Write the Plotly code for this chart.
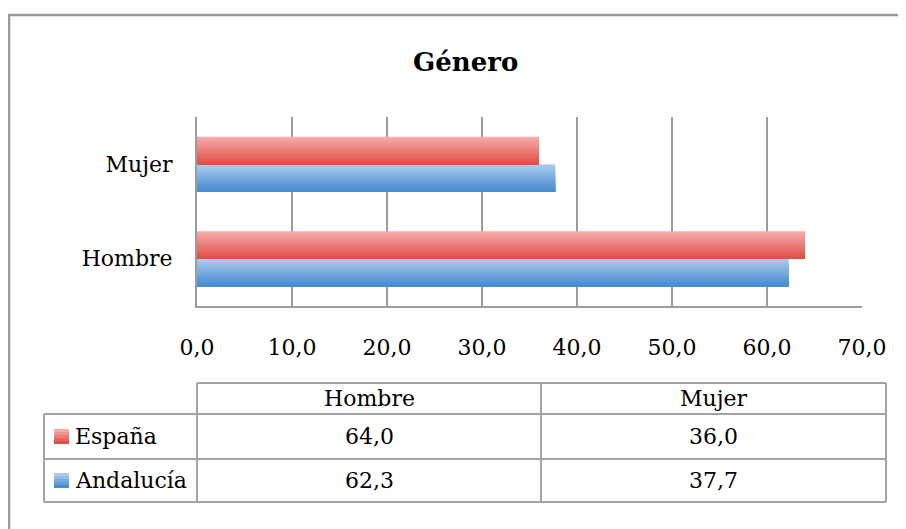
import plotly.graph_objects as go

# ---- data ----
categories = ["Hombre", "Mujer"]
series_names = ["España", "Andalucía"]
espana = [64.0, 36.0]
andalucia = [62.3, 37.7]
x_ticks = [0, 10, 20, 30, 40, 50, 60, 70]
title_text = "Género"

# ---- styling ----
OFF = 8                                   # page body margin
W, H = 906 - OFF, 529 - OFF
L, R, T, B = 197 - OFF, 862 - OFF, 117 - OFF, 306 - OFF   # plot area in figure pixels
FONT = "DejaVu Serif"
FS = 22
GRID = "#9C9C9C"
red_top, red_bot = (247, 170, 168), (222, 80, 72)
blue_top, blue_bot = (172, 202, 236), (70, 141, 209)

def px2x(px):                # screenshot pixel -> paper
    return (px - OFF - L) / (R - L)

def py2y(py):
    return (B - (py - OFF)) / (B - T)

def lerp(c1, c2, t):
    return "rgb(%d,%d,%d)" % tuple(round(a + (b - a) * t) for a, b in zip(c1, c2))

fig = go.Figure()

bar_w = 0.291          # thickness of a bar in category units
strips = 16
series = [(andalucia, blue_top, blue_bot, -bar_w), (espana, red_top, red_bot, 0.0)]
for vals, ctop, cbot, off0 in series:
    for k in range(strips):
        t = k / (strips - 1)
        fig.add_trace(go.Bar(
            x=vals, y=categories, orientation="h",
            width=bar_w * (1 - k / strips),
            offset=off0,
            marker=dict(color=lerp(ctop, cbot, t), line=dict(width=0)),
            showlegend=False, hoverinfo="skip",
        ))

shapes = []
annotations = []

# outer chart frame
shapes.append(dict(type="rect", xref="paper", yref="paper",
                   x0=px2x(9), x1=px2x(930), y0=py2y(15), y1=py2y(560),
                   line=dict(color="#9A9A9A", width=2.5), fillcolor="rgba(0,0,0,0)", layer="above"))

# title
annotations.append(dict(text="<b>%s</b>" % title_text, xref="paper", yref="paper",
                        x=px2x(465), y=py2y(62), showarrow=False,
                        font=dict(family=FONT, size=26, color="#000000"),
                        xanchor="center", yanchor="middle"))

# ---- data table ----
tbl_left, col1, col2, tbl_right = 44, 197, 541, 886
rows_y = [383, 414, 459, 502]
line_style = dict(color="#A3A3A3", width=2)

def hline(x0, x1, y):
    shapes.append(dict(type="line", xref="paper", yref="paper",
                       x0=px2x(x0), x1=px2x(x1), y0=py2y(y), y1=py2y(y), line=line_style))

def vline(x, y0, y1):
    shapes.append(dict(type="line", xref="paper", yref="paper",
                       x0=px2x(x), x1=px2x(x), y0=py2y(y0), y1=py2y(y1), line=line_style))

hline(col1, tbl_right, rows_y[0])
hline(tbl_left, tbl_right, rows_y[1])
hline(tbl_left, tbl_right, rows_y[2])
hline(tbl_left, tbl_right, rows_y[3])
vline(tbl_left, rows_y[1], rows_y[3])
vline(col1, rows_y[0], rows_y[3])
vline(col2, rows_y[0], rows_y[3])
vline(tbl_right, rows_y[0], rows_y[3])

col_centers = [(col1 + col2) / 2, (col2 + tbl_right) / 2]
tfont = dict(family=FONT, size=FS, color="#000000")

def txt(s, x, y, anchor="center"):
    annotations.append(dict(text=s, xref="paper", yref="paper", x=px2x(x), y=py2y(y),
                            showarrow=False, font=tfont, xanchor=anchor, yanchor="middle"))

for c, cx in zip(categories, col_centers):
    txt(c, cx, (rows_y[0] + rows_y[1]) / 2)

table_rows = [(series_names[0], espana, red_top, red_bot),
              (series_names[1], andalucia, blue_top, blue_bot)]
for i, (name, vals, ctop, cbot) in enumerate(table_rows):
    ymid = (rows_y[i + 1] + rows_y[i + 2]) / 2
    # legend key (gradient made of a few bands)
    nb = 5
    for j in range(nb):
        shapes.append(dict(type="rect", xref="paper", yref="paper",
                           x0=px2x(54), x1=px2x(69),
                           y0=py2y(ymid - 7.5 + 15 * j / nb), y1=py2y(ymid - 7.5 + 15 * (j + 1) / nb),
                           line=dict(width=0), fillcolor=lerp(ctop, cbot, j / (nb - 1))))
    txt(name, 73, ymid, anchor="left")
    for v, cx in zip(vals, col_centers):
        txt(("%.1f" % v).replace(".", ","), cx, ymid)

fig.update_layout(
    width=W, height=H,
    margin=dict(l=L, r=W - R, t=T, b=H - B, pad=0),
    paper_bgcolor="white", plot_bgcolor="white",
    barmode="overlay",
    separators=",.",
    showlegend=False,
    font=dict(family=FONT, size=FS, color="#000000"),
    shapes=shapes, annotations=annotations,
    xaxis=dict(range=[0, 70], tickvals=x_ticks, tickformat=".1f",
               showgrid=True, gridcolor=GRID, gridwidth=2,
               showline=True, linecolor=GRID, linewidth=2,
               zeroline=False, ticks="", ticklabelstandoff=21,
               tickfont=dict(family=FONT, size=FS, color="#000000"), fixedrange=True),
    yaxis=dict(categoryorder="array", categoryarray=categories, range=[-0.5, 1.5],
               showgrid=False, showline=True, linecolor=GRID, linewidth=2,
               zeroline=False, ticks="", ticklabelstandoff=18,
               tickfont=dict(family=FONT, size=FS, color="#000000"), fixedrange=True),
)

fig.write_html("out.html")
